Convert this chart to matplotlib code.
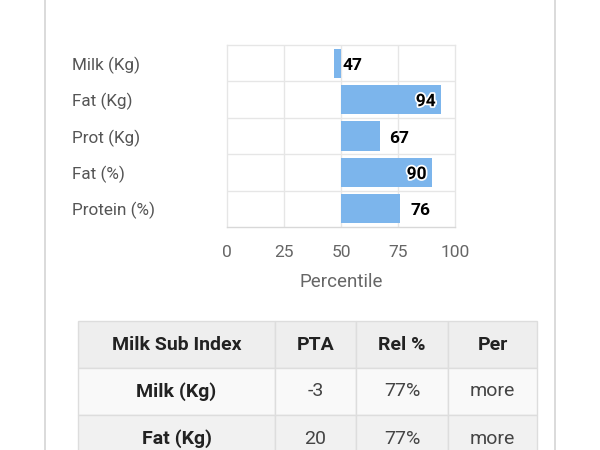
import matplotlib
matplotlib.use("Agg")
import matplotlib.pyplot as plt
import matplotlib.patheffects as pe
from matplotlib.lines import Line2D

plt.rcParams["font.family"] = ["Roboto", "DejaVu Sans"]

# chart data
categories = ["Milk (Kg)", "Fat (Kg)", "Prot (Kg)", "Fat (%)", "Protein (%)"]
percentiles = [47, 94, 67, 90, 76]
x_ticks = [0, 25, 50, 75, 100]

# table data
table_header = ["Milk Sub Index", "PTA", "Rel %", "Per"]
table_rows = [
    ["Milk (Kg)", "-3", "77%", "more"],
    ["Fat (Kg)", "20", "77%", "more"],
]

W, H = 600, 450
fig = plt.figure(figsize=(6, 4.5), dpi=100)
fig.patch.set_facecolor("white")

# card border
for xp in (45, 555):
    fig.add_artist(Line2D([xp / W, xp / W], [0, 1], color="#d4d4d4", lw=1.2))

# bar chart
ax = fig.add_axes([227 / W, 1 - 227 / H, 228 / W, 182 / H])
base = 50
ypos = list(range(len(categories)))
ax.barh(ypos, [v - base for v in percentiles], left=base, height=0.8,
        color="#7cb5ec", zorder=3)

ax.set_xlim(0, 100)
ax.set_ylim(len(categories) - 0.5, -0.5)
ax.set_xticks(x_ticks)
ax.set_xticklabels([str(t) for t in x_ticks])
ax.set_yticks(ypos)
ax.set_yticklabels(categories)
for lab in ax.get_yticklabels():
    lab.set_horizontalalignment("left")
ax.tick_params(axis="y", length=0, pad=(227 - 72) * 0.72, labelsize=12.3,
               labelcolor="#555555")
ax.tick_params(axis="x", length=0, pad=13, labelsize=12.5, labelcolor="#666666")

for xt in x_ticks[1:-1]:
    ax.axvline(xt, color="#e6e6e6", lw=1, zorder=1)
for yb in [i + 0.5 for i in ypos[:-1]]:
    ax.axhline(yb, color="#e6e6e6", lw=1, zorder=1)
for sp in ax.spines.values():
    sp.set_color("#e6e6e6")
    sp.set_linewidth(1)
ax.spines["bottom"].set_color("#d8d8d8")

ax.set_xlabel("Percentile", fontsize=13.5, color="#666666", labelpad=9)

lab_kw = dict(va="center", fontsize=12.5, fontweight="bold", color="black",
              zorder=5, textcoords="offset points")
for y, v in zip(ypos, percentiles):
    if v >= 85:
        ax.annotate(str(v), (v, y), xytext=(-4, -1.5), ha="right",
                    path_effects=[pe.withStroke(linewidth=2.5, foreground="white")],
                    **lab_kw)
    elif v < base:
        ax.annotate(str(v), (base, y), xytext=(1, -1.5), ha="left", **lab_kw)
    else:
        ax.annotate(str(v), (v, y), xytext=(7, -1.5), ha="left", **lab_kw)

# table
tax = fig.add_axes([78 / W, 1 - 462 / H, 459 / W, 141 / H])
tax.axis("off")
col_w = [197, 81, 92, 89]
col_w = [c / sum(col_w) for c in col_w]
cell_text = [table_header] + table_rows
colours = [["#eeeeee"] * 4, ["#f9f9f9"] * 4, ["#f1f1f1"] * 4]
tbl = tax.table(cellText=cell_text, cellColours=colours, colWidths=col_w,
                cellLoc="center", bbox=[0, 0, 1, 1])
tbl.auto_set_font_size(False)
for (r, c), cell in tbl.get_celld().items():
    cell.set_edgecolor("#dddddd")
    cell.set_linewidth(1)
    t = cell.get_text()
    t.set_fontsize(14)
    if r == 0 or c == 0:
        t.set_fontweight("bold")
        t.set_color("#222222")
    else:
        t.set_color("#444444")

fig.savefig("out.png", dpi=100, facecolor="white")
